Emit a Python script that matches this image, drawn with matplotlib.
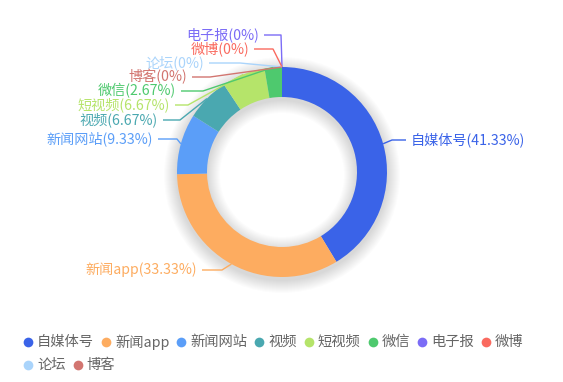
import numpy as np
import matplotlib
matplotlib.use("Agg")
import matplotlib.pyplot as plt
from matplotlib.patches import Wedge

plt.rcParams['font.family'] = ['Noto Sans CJK SC', 'DejaVu Sans']

# ---- data ----
categories = ['自媒体号', '新闻app', '新闻网站', '视频', '短视频', '微信', '电子报', '微博', '论坛', '博客']
values = [41.33, 33.33, 9.33, 6.67, 6.67, 2.67, 0, 0, 0, 0]
pct_labels = ['41.33%', '33.33%', '9.33%', '6.67%', '6.67%', '2.67%', '0%', '0%', '0%', '0%']
colors = ['#3a63e8', '#fdac60', '#5b9ef8', '#4aa8b0', '#b5e46a', '#4ec96e',
          '#7b6cf6', '#fa6a5f', '#aad4fb', '#d27570']

# ---- layout (pixel space) ----
W, H = 563, 382
CX, CY = 282, 172
R_OUT, R_IN = 105, 75
# per label: elbow x, label y, text anchor x, side
label_layout = {
    '自媒体号': (392, 140, 411, 'left'),
    '新闻app': (222, 270, 197, 'right'),
    '新闻网站': (177, 139, 153, 'right'),
    '视频': (180, 120, 158, 'right'),
    '短视频': (188, 105, 170, 'right'),
    '微信': (203, 91, 176, 'right'),
    '电子报': (281, 35, 259, 'right'),
    '微博': (273, 49, 249, 'right'),
    '论坛': (240, 63, 204, 'right'),
    '博客': (210, 77, 187, 'right'),
}

def Y(py):
    return H - py

fig = plt.figure(figsize=(W / 100, H / 100), dpi=100)
ax = fig.add_axes([0, 0, 1, 1])

# soft shadow
for k in range(1, 14):
    ax.add_patch(Wedge((CX, Y(CY + 3)), R_OUT + k, 0, 360, width=(R_OUT - R_IN) + 2 * k,
                       facecolor='black', edgecolor='none', alpha=0.011, zorder=1))

wedges, _ = ax.pie(values, colors=colors, startangle=90, counterclock=False,
                   radius=R_OUT, center=(CX, Y(CY)),
                   wedgeprops=dict(width=R_OUT - R_IN, linewidth=0, zorder=2))
for w in wedges:
    w.set_zorder(2)

# labels with leader lines
total = sum(values)
cum = 0.0
for cat, v, p, c in zip(categories, values, pct_labels, colors):
    mid = cum + v / 2
    cum += v
    ang = np.deg2rad(90 - mid / total * 360)
    px = CX + R_OUT * np.cos(ang)
    py = CY - R_OUT * np.sin(ang)
    ex, ly, tx, side = label_layout[cat]
    end = tx - 5 if side == 'left' else tx + 5
    ax.plot([px, ex, end], [Y(py), Y(ly), Y(ly)], color=c, lw=1, zorder=3,
            solid_capstyle='butt')
    ax.text(tx, Y(ly), f'{cat}({p})', color=c, fontsize=10.2,
            ha=side, va='center', zorder=4)

# legend
fig.canvas.draw()
renderer = fig.canvas.get_renderer()
x0 = 28
x = x0
row_y = 342
for cat, c in zip(categories, colors):
    t = ax.text(0, 0, cat, fontsize=10.3, color='#666666', va='center', ha='left')
    tw = t.get_window_extent(renderer).width
    if x + 9 + tw > 545:
        x = x0
        row_y += 23
    ax.plot([x], [Y(row_y)], marker='o', markersize=7, color=c,
            markeredgewidth=0, zorder=5)
    t.set_position((x + 9, Y(row_y)))
    x += 9 + tw + 12

ax.set_xlim(0, W)
ax.set_ylim(0, H)
ax.set_aspect('auto')
ax.axis('off')
fig.savefig('out.png', dpi=100)
